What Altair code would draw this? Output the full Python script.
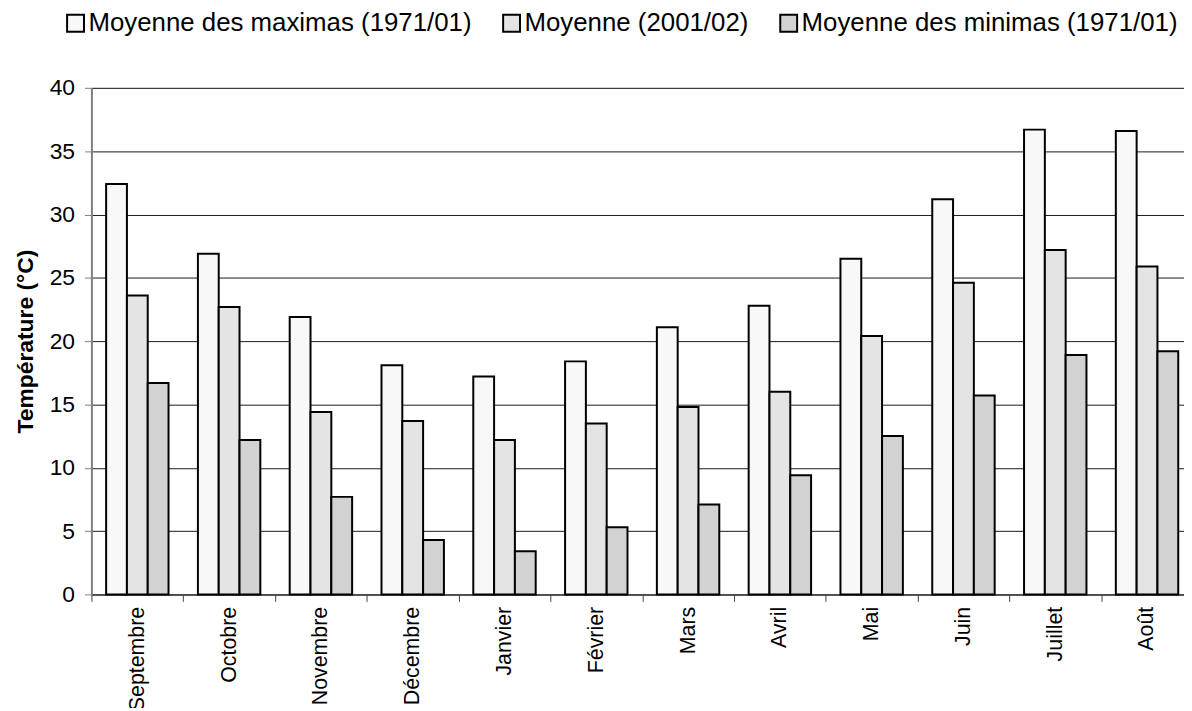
import altair as alt
import pandas as pd

months = ["Septembre", "Octobre", "Novembre", "Décembre", "Janvier", "Février",
          "Mars", "Avril", "Mai", "Juin", "Juillet", "Août"]
series = ["Moyenne des maximas (1971/01)", "Moyenne (2001/02)", "Moyenne des minimas (1971/01)"]
maximas = [32.4, 26.9, 21.9, 18.1, 17.2, 18.4, 21.1, 22.8, 26.5, 31.2, 36.7, 36.6]
moyenne = [23.6, 22.7, 14.4, 13.7, 12.2, 13.5, 14.8, 16.0, 20.4, 24.6, 27.2, 25.9]
minimas = [16.7, 12.2, 7.7, 4.3, 3.4, 5.3, 7.1, 9.4, 12.5, 15.7, 18.9, 19.2]
colors = ["#f8f8f8", "#e4e4e4", "#d2d2d2"]

rows = []
for name, vals in zip(series, [maximas, moyenne, minimas]):
    for m, v in zip(months, vals):
        rows.append({"mois": m, "serie": name, "valeur": v})
df = pd.DataFrame(rows)

FONT = "Liberation Sans"

chart = alt.Chart(df).mark_bar(stroke="black", strokeWidth=2).encode(
    x=alt.X("mois:N", sort=months, title=None,
            scale=alt.Scale(paddingInner=0, paddingOuter=0,
                            range=[0, alt.ExprRef(expr="1109")]),
            axis=alt.Axis(labelAngle=-90, labelAlign="right", labelBaseline="middle",
                          labelFontSize=21.5, labelFont=FONT, labelColor="black",
                          labelPadding=5, tickBand="extent", ticks=True, tickSize=7,
                          tickColor="#404040", domainColor="#404040", domainWidth=1.5,
                          grid=False, labelOverlap=False)),
    xOffset=alt.XOffset("serie:N", sort=series,
                        scale=alt.Scale(paddingInner=0, paddingOuter=0.706)),
    y=alt.Y("valeur:Q", title="Température (°C)",
            scale=alt.Scale(domain=[0, 40], nice=False),
            axis=alt.Axis(values=[0, 5, 10, 15, 20, 25, 30, 35, 40],
                          labelFontSize=23, labelFont=FONT, labelColor="black",
                          labelPadding=10, tickSize=7, tickColor="#808080",
                          domainColor="#808080", domainWidth=2,
                          grid=True, gridColor="#1a1a1a", gridWidth=1,
                          titleFont=FONT, titleFontSize=23, titleFontWeight="bold",
                          titleColor="black", titlePadding=12)),
    color=alt.Color("serie:N", sort=series,
                    scale=alt.Scale(domain=series, range=colors),
                    legend=alt.Legend(title=None, orient="none", direction="horizontal",
                                      legendX=-29, legendY=-78,
                                      symbolType="square", symbolSize=289,
                                      symbolStrokeColor="black", symbolStrokeWidth=2,
                                      symbolOpacity=1,
                                      labelFont=FONT, labelFontSize=26, labelColor="black",
                                      labelOffset=0, columnPadding=27,
                                      labelLimit=600)),
).properties(
    width=1100,
    height=510,
    autosize=alt.AutoSizeParams(type="none"),
    padding={"left": 84, "top": 78, "right": 0, "bottom": 112},
).configure_view(stroke=None).configure(background="white")

chart.save("out.html", embed_options={"renderer": "svg", "actions": False})
